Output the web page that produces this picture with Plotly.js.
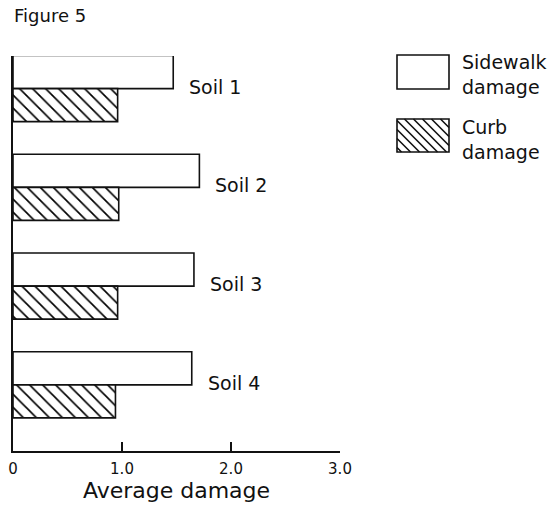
<!DOCTYPE html>
<html>
<head>
<meta charset="utf-8">
<script src="https://cdn.plot.ly/plotly-3.0.1.min.js"></script>
<style>html,body{margin:0;padding:0;background:#fff;}</style>
</head>
<body>
<div id="chart" style="width:560px;height:506px;"></div>
<script>
// ---- data ----
var soils = ["Soil 1", "Soil 2", "Soil 3", "Soil 4"];
var sidewalkDamage = [1.47, 1.71, 1.66, 1.64];
var curbDamage = [0.96, 0.97, 0.96, 0.94];
var xTickVals = [0, 1, 2, 3];
var xTickText = ["0", "1.0", "2.0", "3.0"];
var seriesNames = ["Sidewalk damage", "Curb damage"];

// ---- layout geometry ----
var W = 560, H = 506;
var M = {l: 13, r: 220, t: 56, b: 55};
var PW = W - M.l - M.r, PH = H - M.t - M.b;
function px(x) { return (x - M.l) / PW; }
function py(y) { return (M.t + PH - y) / PH; }
var FONT = "DejaVu Sans, Liberation Sans, Arial, sans-serif";
var INK = "#111";

var traces = [
  {
    type: "bar", orientation: "h", name: seriesNames[0],
    y: soils, x: sidewalkDamage,
    marker: {color: "#fff", line: {color: INK, width: 1.6}},
    hoverinfo: "x+y"
  },
  {
    type: "bar", orientation: "h", name: seriesNames[1],
    y: soils, x: curbDamage,
    marker: {color: "#fff", line: {color: INK, width: 1.6},
      pattern: {shape: "\\", size: 9.2, solidity: 0.18, fgcolor: "#000", fgopacity: 1, bgcolor: "#fff", fillmode: "replace"}},
    hoverinfo: "x+y"
  }
];

var annotations = soils.map(function (s, i) {
  return {
    x: sidewalkDamage[i], y: s, xref: "x", yref: "y",
    text: s, showarrow: false, xanchor: "left", yanchor: "middle",
    xshift: 14, yshift: 2,
    font: {family: FONT, size: 19, color: INK}
  };
});
annotations.push({
  x: px(12), y: py(16), xref: "paper", yref: "paper",
  text: "Figure 5", showarrow: false, xanchor: "left", yanchor: "middle",
  font: {family: FONT, size: 18, color: INK}
});
// legend text
annotations.push({
  x: px(460), y: py(74), xref: "paper", yref: "paper",
  text: "Sidewalk<br>damage", showarrow: false, xanchor: "left", yanchor: "middle", align: "left",
  font: {family: FONT, size: 19, color: INK}
});
annotations.push({
  x: px(460), y: py(139), xref: "paper", yref: "paper",
  text: "Curb<br>damage", showarrow: false, xanchor: "left", yanchor: "middle", align: "left",
  font: {family: FONT, size: 19, color: INK}
});

// legend boxes
var shapes = [];
function box(x0, y0, x1, y1) {
  return {type: "rect", xref: "paper", yref: "paper",
    x0: px(x0), x1: px(x1), y0: py(y1), y1: py(y0),
    line: {color: INK, width: 1.6}, fillcolor: "#fff"};
}
shapes.push(box(397, 55, 449, 89));
shapes.push(box(397, 119, 449, 152));
// hatch for curb legend box
(function () {
  var x0 = 397, y0 = 119, x1 = 449, y1 = 152, step = 9;
  var d = "";
  for (var c = x0 - y1 + step / 2; c < x1 - y0; c += step) {
    var xs = Math.max(x0, y0 + c), xe = Math.min(x1, y1 + c);
    if (xs < xe) {
      d += "M" + px(xs) + "," + py(xs - c) + "L" + px(xe) + "," + py(xe - c);
    }
  }
  shapes.push({type: "path", xref: "paper", yref: "paper", path: d,
    line: {color: INK, width: 1.6}});
})();

var layout = {
  width: W, height: H,
  margin: M,
  paper_bgcolor: "#fff", plot_bgcolor: "#fff",
  showlegend: false,
  barmode: "group", bargap: 0.33, bargroupgap: 0,
  font: {family: FONT, color: INK},
  xaxis: {
    range: [0, 3], fixedrange: true,
    showgrid: false, zeroline: false,
    showline: true, linecolor: INK, linewidth: 2,
    ticks: "inside", ticklen: 9, tickwidth: 1.6, tickcolor: INK,
    tickmode: "array", tickvals: xTickVals, ticktext: xTickText,
    tickfont: {family: FONT, size: 15, color: INK},
    ticklabelstandoff: 3,
    title: {text: "Average damage", font: {family: FONT, size: 22, color: INK}, standoff: 6}
  },
  yaxis: {
    type: "category", categoryorder: "array", categoryarray: soils,
    range: [3.67, -0.33], fixedrange: true,
    showgrid: false, zeroline: false,
    showline: true, linecolor: INK, linewidth: 2,
    ticks: "", showticklabels: false
  },
  annotations: annotations,
  shapes: shapes
};

Plotly.newPlot("chart", traces, layout, {displayModeBar: false, staticPlot: true});
</script>
</body>
</html>
